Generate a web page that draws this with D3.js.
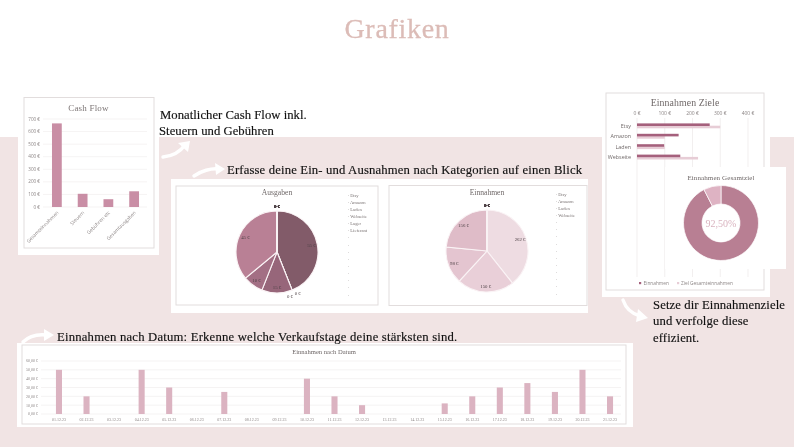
<!DOCTYPE html>
<html>
<head>
<meta charset="utf-8">
<script src="https://cdn.jsdelivr.net/npm/d3@7"></script>
<style>
html, body { margin: 0; padding: 0; background: #fff; overflow: hidden; }
svg { display: block; filter: blur(0.35px); }
text { font-family: "Liberation Serif", serif; }
.sans { font-family: "Open Sans", sans-serif; }
</style>
</head>
<body>
<div id="chart"></div>
<script>
// chart data
var cashCats = ["Gesamteinnahmen", "Steuern", "Gebühren etc", "Gesamtausgaben"]
var cashValues = [665, 105, 62, 125]
var cashTicks = [0, 100, 200, 300, 400, 500, 600, 700]

var legendAus = ["Etsy", "Amazon", "Laden", "Webseite", "Lager", "Lieferant", "", "", "", "", "", "", "", "", ""]
var valuesAus = [55, 0, 0, 15, 10, 45, 0, 0, 0, 0, 0, 0, 0, 0, 0]
var coloursAus = ["#825b69", "#8a5f6e", "#8f6374", "#97667a", "#a36f84", "#b98095"]

var legendEin = ["Etsy", "Amazon", "Laden", "Webseite", "", "", "", "", "", "", "", "", "", "", ""]
var valuesEin = [262, 150, 98, 156, 0, 0, 0, 0, 0, 0, 0, 0, 0, 0, 0]
var coloursEin = ["#eedce2", "#e9cfd8", "#e4c5d0", "#dfbcc8"]

var zielCats = ["Etsy", "Amazon", "Laden", "Webseite", "", "", "", "", "", "", "", "", "", "", ""]
var zielIst = [262, 150, 98, 156]
var zielSoll = [300, 100, 100, 220]
var zielTicks = [0, 100, 200, 300, 400]

var gesamtValues = [92.5, 7.5]
var gesamtLabel = "92,50%"

var dates = ["01.12.23", "02.12.23", "03.12.23", "04.12.23", "05.12.23", "06.12.23", "07.12.23",
	"08.12.23", "09.12.23", "10.12.23", "11.12.23", "12.12.23", "13.12.23", "14.12.23",
	"15.12.23", "16.12.23", "17.12.23", "18.12.23", "19.12.23", "20.12.23", "21.12.23"]
var dateValues = [50, 20, 0, 50, 30, 0, 25, 0, 0, 40, 20, 10, 0, 0, 12, 20, 30, 35, 25, 50, 20]
var dateTicks = [0, 10, 20, 30, 40, 50, 60]

var grey = "#8c8585"
var rose = "#c98ea5"
var pale = "#dbb3c1"

var svg = d3.select("#chart").append("svg")
	.attr("width", 794)
	.attr("height", 447)

// background
svg.append("rect").attr("width", 794).attr("height", 447).attr("fill", "#fff")
svg.append("rect").attr("y", 137).attr("width", 794).attr("height", 310).attr("fill", "#f1e4e4")

function panel(x, y, w, h, ix, iy, iw, ih) {
	svg.append("rect").attr("x", x).attr("y", y).attr("width", w).attr("height", h).attr("fill", "#fff")
	if (iw) svg.append("rect").attr("x", ix).attr("y", iy).attr("width", iw).attr("height", ih)
		.attr("fill", "#fff").attr("stroke", "#e2dddd").attr("stroke-width", 1)
}

function heading(x, y, size, str, colour, spacing) {
	return svg.append("text").attr("x", x).attr("y", y)
		.attr("font-size", size)
		.attr("fill", colour || "#222")
		.attr("letter-spacing", spacing || 0)
		.text(str)
}

function body(x, y, str, spacing) {
	heading(x, y, 12.7, str, "#111", spacing).attr("stroke", "#111").attr("stroke-width", 0.15)
}

function arrow(d, head) {
	svg.append("path").attr("d", d).attr("fill", "none").attr("stroke", "#fff")
		.attr("stroke-width", 3.4).attr("stroke-linecap", "round")
	svg.append("path").attr("d", head).attr("fill", "#fff")
}

panel(18, 97, 141, 158, 24, 97.5, 130, 150.5)
panel(171, 179, 417, 134, 176, 186, 202, 119)
svg.append("rect").attr("x", 389).attr("y", 185.5).attr("width", 198).attr("height", 120)
	.attr("fill", "#fff").attr("stroke", "#e2dddd")
panel(602, 92, 168, 205, 606, 93, 158, 197)
panel(17, 343, 616, 84, 22, 345, 604, 79)

// headings
heading(397, 38, 28, "Grafiken", "#dcbcb7", 0.7).attr("text-anchor", "middle").attr("stroke", "#dcbcb7").attr("stroke-width", 0.3)
body(160, 119, "Monatlicher Cash Flow inkl.", 0.03)
body(159, 135, "Steuern und Gebühren", 0.03)
body(227, 174, "Erfasse deine Ein- und Ausnahmen nach Kategorien auf einen Blick", 0.15)
body(57, 341, "Einnahmen nach Datum: Erkenne welche Verkaufstage deine stärksten sind.", 0.2)
body(653, 309, "Setze dir Einnahmenziele", 0.1)
body(653, 325, "und verfolge diese", 0.1)
body(653, 342, "effizient.", 0.1)

arrow("M163,157 C173,156 180,152 185,145", "M190,141 L178,143 L188,152 Z")
arrow("M194,176 C201,171 211,168 219,169", "M225,169 L215,163 L216,175 Z")
arrow("M23,342 C29,336 38,334 47,335", "M54,335 L44,329 L44,341 Z")
arrow("M623,300 C626,309 633,314 640,316", "M648,318 L638,309 L636,322 Z")

// cash flow
heading(88.5, 111, 9, "Cash Flow", "#7d7676", 0.2).attr("text-anchor", "middle")

var cashX = d3.scaleBand().domain(cashCats).range([44, 147]).paddingInner(0.62).paddingOuter(0.31)
var cashY = d3.scaleLinear().domain([0, 700]).range([207, 119])

svg.append("g").selectAll("line").data(cashTicks).enter().append("line")
	.attr("x1", 43).attr("x2", 147)
	.attr("y1", function(d) { return cashY(d) })
	.attr("y2", function(d) { return cashY(d) })
	.attr("stroke", "#f1eeee").attr("stroke-width", 0.7)

svg.append("g").selectAll("text").data(cashTicks).enter().append("text")
	.attr("class", "sans")
	.attr("x", 40).attr("text-anchor", "end")
	.attr("y", function(d) { return cashY(d) + 1.6 })
	.attr("font-size", 4.6).attr("fill", grey)
	.text(function(d) { return d + " €" })

svg.append("g").selectAll("rect").data(cashCats).enter().append("rect")
	.attr("x", function(d) { return cashX(d) })
	.attr("width", cashX.bandwidth())
	.attr("y", function(d, i) { return cashY(cashValues[i]) })
	.attr("height", function(d, i) { return cashY(0) - cashY(cashValues[i]) })
	.attr("fill", rose)

svg.append("g").selectAll("text").data(cashCats).enter().append("text")
	.attr("class", "sans")
	.attr("text-anchor", "end")
	.attr("transform", function(d) { return "translate(" + (cashX(d) + cashX.bandwidth() / 2 + 2) + ",213) rotate(-45)" })
	.attr("font-size", 4.8).attr("fill", grey)
	.text(function(d) { return d })

// pies
function drawPie(cx, cy, title, titleY, values, colours, names, legendX, legendY) {
	var r = 41
	var pie = d3.pie().sort(null).value(function(d) { return d })
	var arc = d3.arc().innerRadius(0).outerRadius(r)
	var g = svg.append("g").attr("transform", "translate(" + cx + "," + cy + ")")
	var slices = pie(values)

	g.selectAll("path").data(slices).enter().append("path")
		.attr("d", arc)
		.attr("fill", function(d, i) { return colours[i] || "#fff" })
		.attr("stroke", "#faf3f5").attr("stroke-width", 1.1)

	var nudge = 0
	g.selectAll("text").data(slices).enter().append("text")
		.attr("text-anchor", "middle")
		.attr("font-size", 4.8)
		.attr("fill", "#4d4145")
		.each(function(d) {
			var a = (d.startAngle + d.endAngle) / 2
			var rad = 35
			if (d.value == 0) {
				rad = 46
				// the two empty slices on the lower edge would print on top of each other
				if (a > 0.1 && a < 6.2) { a += (nudge == 0 ? -0.09 : 0.09); nudge++ }
			}
			d3.select(this).attr("x", Math.sin(a) * rad).attr("y", -Math.cos(a) * rad + 1.6)
		})
		.text(function(d) { return d.value + " €" })

	heading(cx, titleY, 7.6, title, "#6f6868").attr("text-anchor", "middle")

	names.forEach(function(n, i) {
		svg.append("text")
			.attr("x", legendX).attr("y", legendY + i * 7.14 + 1.6)
			.attr("font-size", 4.6).attr("fill", "#7a7373")
			.text("\u2219 " + n)
	})
}

drawPie(277, 252, "Ausgaben", 195, valuesAus, coloursAus, legendAus, 348, 195)
drawPie(487, 251, "Einnahmen", 195, valuesEin, coloursEin, legendEin, 556, 194)

// einnahmen ziele
heading(685, 106, 9.8, "Einnahmen Ziele", "#6f6868", 0.1).attr("text-anchor", "middle")

var zielX = d3.scaleLinear().domain([0, 400]).range([637, 748])
var zielY = d3.scaleBand().domain(d3.range(zielCats.length)).range([121, 277])

svg.append("g").selectAll("line").data(zielTicks).enter().append("line")
	.attr("x1", function(d) { return zielX(d) })
	.attr("x2", function(d) { return zielX(d) })
	.attr("y1", 118).attr("y2", 277)
	.attr("stroke", "#ece8e8").attr("stroke-width", 0.7)

svg.append("g").selectAll("text").data(zielTicks).enter().append("text")
	.attr("class", "sans")
	.attr("x", function(d) { return zielX(d) })
	.attr("y", 114.5)
	.attr("text-anchor", "middle")
	.attr("font-size", 5).attr("fill", grey)
	.text(function(d) { return d + " €" })

zielCats.slice(0, 4).forEach(function(c, i) {
	var top = zielY(i) + 2.4
	svg.append("rect").attr("x", zielX(0)).attr("y", top + 2.3)
		.attr("width", zielX(zielSoll[i]) - zielX(0)).attr("height", 2.6).attr("fill", "#e7cdd6")
	svg.append("rect").attr("x", zielX(0)).attr("y", top)
		.attr("width", zielX(zielIst[i]) - zielX(0)).attr("height", 2.6).attr("fill", "#a5607c")
	svg.append("text").attr("class", "sans")
		.attr("x", 631).attr("y", zielY(i) + zielY.bandwidth() / 2 + 1.8)
		.attr("text-anchor", "end").attr("font-size", 5.4).attr("fill", "#6f6868")
		.text(c)
})

// legend for the ziele chart
svg.append("rect").attr("x", 639).attr("y", 282).attr("width", 2.2).attr("height", 2.2).attr("fill", "#a5607c")
svg.append("text").attr("class", "sans").attr("x", 643.5).attr("y", 285)
	.attr("font-size", 4.8).attr("fill", grey).text("Einnahmen")
svg.append("rect").attr("x", 677).attr("y", 282).attr("width", 2.2).attr("height", 2.2).attr("fill", "#e7cdd6")
svg.append("text").attr("class", "sans").attr("x", 681).attr("y", 285)
	.attr("font-size", 4.8).attr("fill", grey).text("Ziel Gesamteinnahmen")

// donut goes on its own white card over the bars
svg.append("rect").attr("x", 665).attr("y", 167).attr("width", 121).attr("height", 102).attr("fill", "#fff")
heading(721, 179.5, 7, "Einnahmen Gesamtziel", "#6f6868", 0.1).attr("text-anchor", "middle")

var donut = svg.append("g").attr("transform", "translate(721,223)")
var donutColours = ["#b87f93", "#deb3c3"]
donut.selectAll("path").data(d3.pie().sort(null)(gesamtValues)).enter().append("path")
	.attr("d", d3.arc().innerRadius(19).outerRadius(37.5))
	.attr("fill", function(d, i) { return donutColours[i] })
	.attr("stroke", "#fff").attr("stroke-width", 0.7)
donut.append("text").attr("text-anchor", "middle").attr("y", 3.5)
	.attr("font-size", 10).attr("fill", "#d9b3bf").text(gesamtLabel)

// einnahmen nach datum
heading(324, 354, 6.6, "Einnahmen nach Datum", "#6f6868").attr("text-anchor", "middle")

var dateX = d3.scaleBand().domain(dates).range([45.2, 623.8]).paddingInner(0.78).paddingOuter(0.39)
var dateY = d3.scaleLinear().domain([0, 60]).range([414, 361])

svg.append("g").selectAll("line").data(dateTicks).enter().append("line")
	.attr("x1", 41).attr("x2", 621)
	.attr("y1", function(d) { return dateY(d) })
	.attr("y2", function(d) { return dateY(d) })
	.attr("stroke", "#f1eeee").attr("stroke-width", 0.7)

svg.append("g").selectAll("text").data(dateTicks).enter().append("text")
	.attr("x", 38).attr("text-anchor", "end")
	.attr("y", function(d) { return dateY(d) + 1.4 })
	.attr("font-size", 4).attr("fill", grey)
	.text(function(d) { return d + ",00 €" })

svg.append("g").selectAll("rect").data(dates).enter().append("rect")
	.attr("x", function(d) { return dateX(d) })
	.attr("width", dateX.bandwidth())
	.attr("y", function(d, i) { return dateY(dateValues[i]) })
	.attr("height", function(d, i) { return dateY(0) - dateY(dateValues[i]) })
	.attr("fill", pale)

svg.append("g").selectAll("text").data(dates).enter().append("text")
	.attr("x", function(d) { return dateX(d) + dateX.bandwidth() / 2 })
	.attr("y", 420.5)
	.attr("text-anchor", "middle")
	.attr("font-size", 4).attr("fill", grey)
	.text(function(d) { return d })
</script>
</body>
</html>
